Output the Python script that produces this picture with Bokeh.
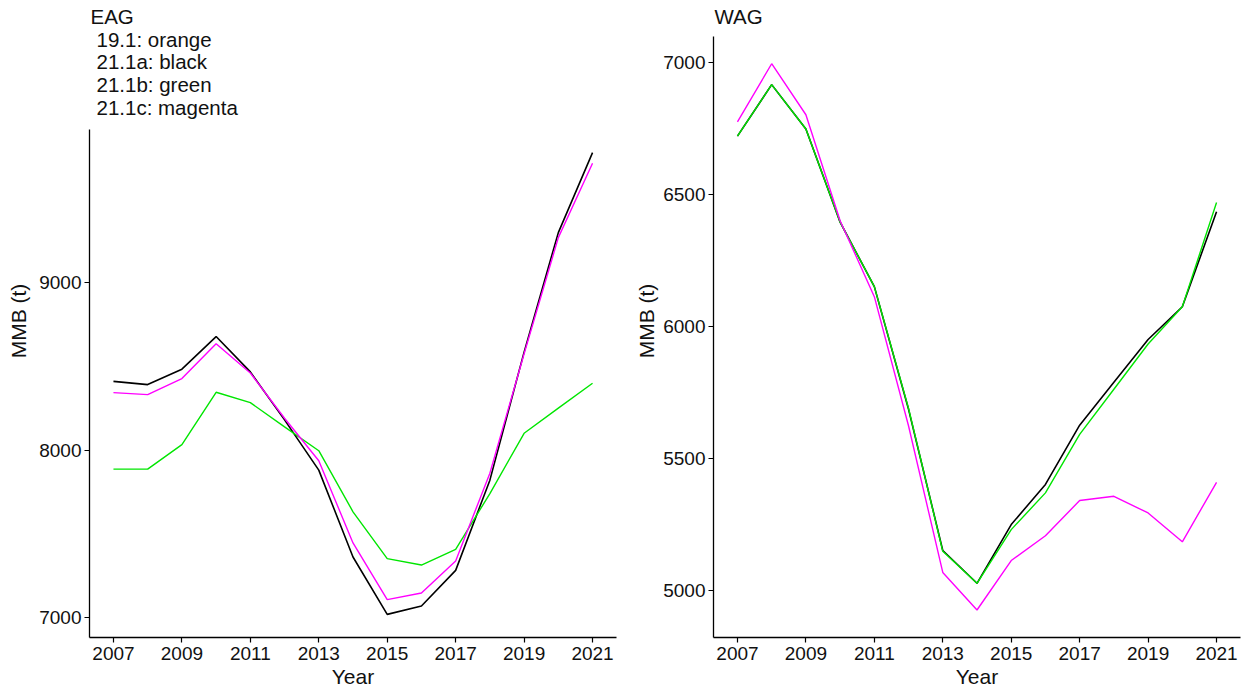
from bokeh.plotting import figure
from bokeh.layouts import row
from bokeh.models import Range1d, FixedTicker, Label
from bokeh.embed import file_html
from bokeh.resources import INLINE

# ---------------- data ----------------
years = [2007, 2008, 2009, 2010, 2011, 2012, 2013, 2014, 2015, 2016, 2017, 2018, 2019, 2020, 2021]

# EAG panel (MMB, t)
eag_21_1a = [8410, 8391, 8483, 8678, 8467, 8180, 7880, 7361, 7018, 7068, 7281, 7820, 8585, 9299, 9777]
eag_21_1b = [7886, 7886, 8032, 8345, 8283, 8138, 7996, 7631, 7351, 7313, 7407, 7740, 8100, 8250, 8399]
eag_21_1c = [8343, 8331, 8427, 8635, 8460, 8190, 7936, 7445, 7106, 7146, 7337, 7862, 8575, 9269, 9713]

# WAG panel (MMB, t)
wag_21_1a = [6720, 6915, 6747, 6395, 6151, 5687, 5153, 5029, 5251, 5403, 5627, 5789, 5951, 6075, 6434]
wag_21_1b = [6720, 6915, 6747, 6395, 6151, 5690, 5150, 5029, 5232, 5371, 5592, 5763, 5934, 6075, 6469]
wag_21_1c = [6774, 6994, 6801, 6400, 6113, 5624, 5070, 4928, 5115, 5209, 5342, 5358, 5295, 5186, 5411]

x_ticks = [2007, 2009, 2011, 2013, 2015, 2017, 2019, 2021]
eag_y_ticks = [7000, 8000, 9000]
wag_y_ticks = [5000, 5500, 6000, 6500, 7000]

eag_title_lines = ["EAG", " 19.1: orange", " 21.1a: black", " 21.1b: green", " 21.1c: magenta"]
wag_title_lines = ["WAG"]

x_label = "Year"
y_label = "MMB (t)"

series_colors = {"21.1a": "#000000", "21.1b": "#00E600", "21.1c": "#FF00FF"}

FONT = "Liberation Sans"

# ---------------- layout constants (pixels, page coordinates) ----------------
FRAME_W = 527
FRAME_TOP = 4            # both frames share the same top (row alignment)
FRAME_BOTTOM = 637
FRAME_H = FRAME_BOTTOM - FRAME_TOP
X_LO, X_HI = 2006.3, 2021.7

EAG_AXIS_TOP = 129       # where the EAG axis line starts
EAG_LO, EAG_HI = 6880, 9915
WAG_AXIS_TOP = 36        # where the WAG axis line starts
WAG_LO, WAG_HI = 4824, 7097

eag_ppu = (FRAME_BOTTOM - EAG_AXIS_TOP) / (EAG_HI - EAG_LO)
wag_ppu = (FRAME_BOTTOM - WAG_AXIS_TOP) / (WAG_HI - WAG_LO)


def style_axes(p, yticks, y_label_standoff):
    p.xgrid.visible = False
    p.ygrid.visible = False
    p.outline_line_color = None
    p.background_fill_color = "white"
    p.border_fill_color = "white"
    for ax in (p.xaxis[0], p.yaxis[0]):
        ax.axis_line_color = "black"
        ax.axis_line_width = 1.3
        ax.major_tick_line_color = "black"
        ax.major_tick_line_width = 1.2
        ax.major_tick_in = 0
        ax.major_tick_out = 5
        ax.minor_tick_line_color = None
        ax.major_label_text_font = FONT
        ax.major_label_text_font_size = "19px"
        ax.major_label_text_color = "#111111"
        ax.axis_label_text_font = FONT
        ax.axis_label_text_font_size = "21px"
        ax.axis_label_text_font_style = "normal"
        ax.axis_label_text_color = "#111111"
    p.xaxis[0].ticker = FixedTicker(ticks=x_ticks)
    p.yaxis[0].ticker = FixedTicker(ticks=yticks)
    p.xaxis[0].major_label_standoff = 4
    p.yaxis[0].major_label_standoff = 3
    p.xaxis[0].axis_label = x_label
    p.yaxis[0].axis_label = y_label
    p.xaxis[0].axis_label_standoff = 2
    p.yaxis[0].axis_label_standoff = y_label_standoff


def add_text_lines(p, lines, lo, ppu, centers_px, x_offsets):
    for txt, cy, xo in zip(lines, centers_px, x_offsets):
        p.add_layout(Label(x=X_LO, y=lo + (FRAME_BOTTOM - cy) / ppu, x_offset=xo,
                           text=txt, text_font=FONT, text_font_size="20.5px",
                           text_color="#111111", text_baseline="middle", text_align="left"))


def make_panel(lo, hi, axis_top, yticks, border_left, border_right, label_standoff):
    ppu = (FRAME_BOTTOM - axis_top) / (hi - lo)
    top = lo + FRAME_H / ppu
    p = figure(frame_width=FRAME_W, frame_height=FRAME_H,
               min_border_left=border_left, min_border_right=border_right,
               min_border_top=FRAME_TOP, min_border_bottom=46,
               x_range=Range1d(X_LO, X_HI), y_range=Range1d(lo, top),
               output_backend="svg", toolbar_location=None, tools="")
    style_axes(p, yticks, label_standoff)
    p.yaxis[0].bounds = (lo, hi)
    return p


# ---------------- left panel: EAG ----------------
p1 = make_panel(EAG_LO, EAG_HI, EAG_AXIS_TOP, eag_y_ticks, 89, 14, 6)
p1.line(years, eag_21_1a, line_color=series_colors["21.1a"], line_width=1.6)
p1.line(years, eag_21_1b, line_color=series_colors["21.1b"], line_width=1.4)
p1.line(years, eag_21_1c, line_color=series_colors["21.1c"], line_width=1.4)
add_text_lines(p1, eag_title_lines, EAG_LO, eag_ppu,
               [16, 39, 61.3, 83.8, 106.5], [1, 7, 7, 7, 7])

# ---------------- right panel: WAG ----------------
p2 = make_panel(WAG_LO, WAG_HI, WAG_AXIS_TOP, wag_y_ticks, 83, 5, 2)
p2.line(years, wag_21_1a, line_color=series_colors["21.1a"], line_width=1.6)
p2.line(years, wag_21_1b, line_color=series_colors["21.1b"], line_width=1.4)
p2.line(years, wag_21_1c, line_color=series_colors["21.1c"], line_width=1.4)
add_text_lines(p2, wag_title_lines, WAG_LO, wag_ppu, [16], [1])

layout = row(p1, p2)
open("out.html", "w").write(file_html(layout, INLINE))
